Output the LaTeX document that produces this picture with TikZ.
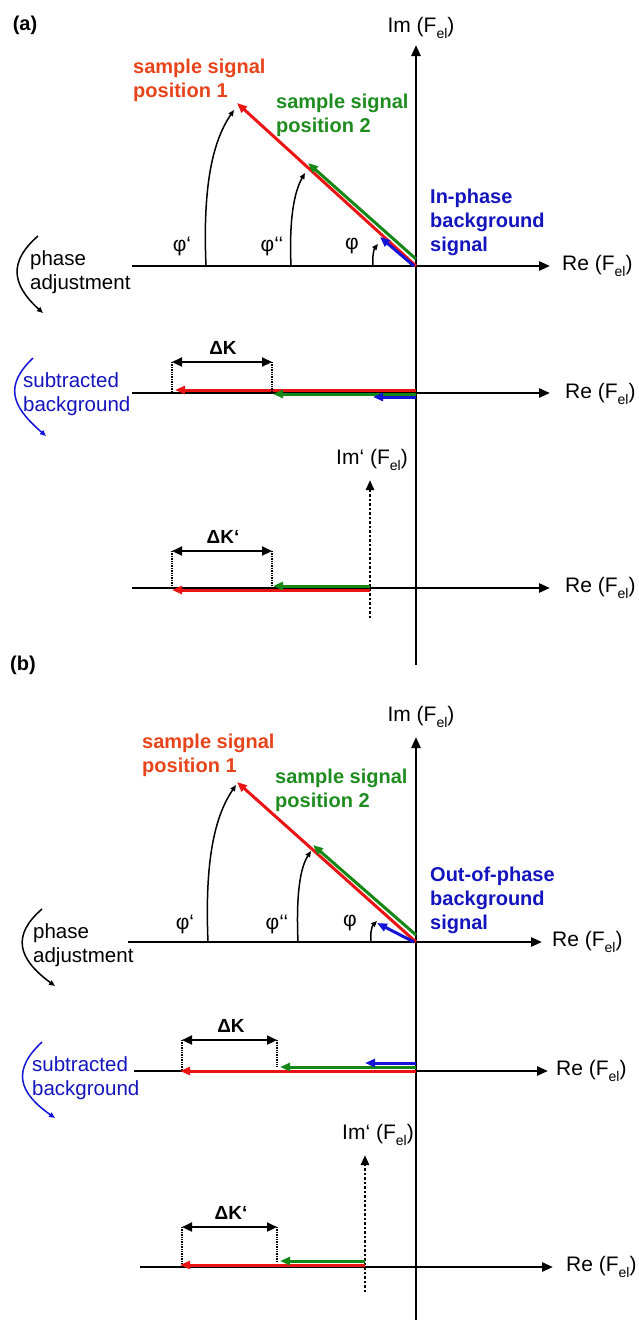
\documentclass[tikz,border=0pt]{standalone}
\usepackage{fontspec}
\setmainfont{Liberation Sans}
\usetikzlibrary{arrows.meta}
\definecolor{txtred}{RGB}{232,68,28}
\definecolor{vecred}{RGB}{235,20,20}
\definecolor{txtgreen}{RGB}{30,140,30}
\definecolor{vecgreen}{RGB}{20,135,20}
\definecolor{txtblue}{RGB}{20,20,190}
\definecolor{vecblue}{RGB}{20,20,215}
\newcommand{\Fel}{F\raisebox{-0.3em}{\fontsize{14}{14}\selectfont el}}
\begin{document}
\begin{tikzpicture}[x=1pt,y=-1pt,
  axisline/.style={line width=2.6pt,-{Triangle[length=11pt,width=9pt]}},
  vecline/.style={line width=3pt,-{Triangle[length=10pt,width=8pt]}},
  arcline/.style={line width=1.5pt,-{Triangle[length=6pt,width=5pt]}},
  dimline/.style={line width=2.2pt,{Triangle[length=10pt,width=9pt]}-{Triangle[length=10pt,width=9pt]}},
  dotline/.style={line width=1.4pt,densely dotted},
  imdot/.style={line width=2.6pt,dash pattern=on 2.5pt off 2pt,-{Triangle[length=10pt,width=8pt]}},
  lbl/.style={inner sep=0pt,font=\fontsize{21}{25}\selectfont},
  klbl/.style={inner sep=0pt,font=\fontsize{19}{23}\selectfont\bfseries},
  blbl/.style={inner sep=0pt,font=\fontsize{20}{24}\selectfont\bfseries,align=left},
  mlbl/.style={inner sep=0pt,font=\fontsize{20.5}{24.5}\selectfont,align=left}]
\useasboundingbox (0,0) rectangle (638,1325);

%%%%%%%%%%%%%%%% PANEL (a)
\node[blbl] (alab) at (25,25) {(a)};
% axes
\coordinate (a1L) at (132,266); \coordinate (a1R) at (550,266);
\coordinate (aVb) at (416,665); \coordinate (aVt) at (416,45);
\coordinate (a2L) at (132,393); \coordinate (a2R) at (550,393);
\coordinate (a3L) at (132,588); \coordinate (a3R) at (550,588);
\draw[axisline] (a1L) -- (a1R);
\draw[axisline] (a2L) -- (a2R);
\draw[axisline] (a3L) -- (a3R);
\draw[axisline] (aVb) -- (aVt);
\node[lbl] (aIm) at (421,28) {Im (\Fel)};
\node[lbl,anchor=west] (aRe1) at (562,266) {Re (\Fel)};
\node[lbl,anchor=west] (aRe2) at (565,394) {Re (\Fel)};
\node[lbl,anchor=west] (aRe3) at (565,588) {Re (\Fel)};
% vectors
\coordinate (aO) at (416,266);
\coordinate (aRt) at (237,103);
\coordinate (aGs) at (416,259); \coordinate (aGt) at (308,163);
\coordinate (aBs) at (414,266); \coordinate (aBt) at (380,237);
\draw[vecline,vecred] (aO) -- (aRt);
\draw[vecline,vecgreen] (aGs) -- (aGt);
\draw[vecline,vecblue] (aBs) -- (aBt);
\node[blbl,anchor=west,txtred] (aRl) at (133,80) {sample signal\\position 1};
\node[blbl,anchor=west,txtgreen] (aGl) at (276,115) {sample signal\\position 2};
\node[blbl,anchor=west,txtblue] (aBl) at (430,222) {In-phase\\background\\signal};
% angles
\coordinate (aA1) at (206,266); \coordinate (aA1e) at (234,110);
\coordinate (aA2) at (291,266); \coordinate (aA2e) at (305,173);
\coordinate (aA3) at (373,266); \coordinate (aA3e) at (378,244);
\draw[arcline] (aA1) .. controls (203,195) and (210,145) .. (aA1e);
\draw[arcline] (aA2) .. controls (289,220) and (294,192) .. (aA2e);
\draw[arcline] (aA3) .. controls (372,257) and (374,249) .. (aA3e);
\node[lbl] (aphi1) at (182,246) {φ‘};
\node[lbl] (aphi2) at (272,246) {φ‘‘};
\node[lbl] (aphi3) at (352,246) {φ};
% phase adjustment
\node[mlbl,anchor=west] (aPh) at (30,272) {phase\\adjustment};
\coordinate (aPa) at (38,236); \coordinate (aPb) at (43,313);
\draw[arcline] (aPa) .. controls (8,262) and (12,285) .. (aPb);
% subtracted
\coordinate (a2Rs) at (416,390); \coordinate (a2Rt) at (175,390);
\coordinate (a2Gs) at (416,394); \coordinate (a2Gt) at (273,394);
\coordinate (a2Bs) at (416,397); \coordinate (a2Bt) at (373,397);
\draw[vecline,vecred] (a2Rs) -- (a2Rt);
\draw[vecline,vecgreen] (a2Gs) -- (a2Gt);
\draw[vecline,vecblue] (a2Bs) -- (a2Bt);
\coordinate (aK1) at (172,362); \coordinate (aK2) at (272,362);
\coordinate (aK1b) at (172,391); \coordinate (aK2b) at (272,393);
\draw[dimline] (aK1) -- (aK2);
\draw[dotline] (aK1) -- (aK1b);
\draw[dotline] (aK2) -- (aK2b);
\node[klbl] (aDK) at (223,348) {ΔK};
\node[mlbl,anchor=west,txtblue] (aSub) at (23,394) {subtracted\\background};
\coordinate (aSa) at (33,358); \coordinate (aSb) at (46,436);
\draw[arcline,vecblue] (aSa) .. controls (5,385) and (10,405) .. (aSb);
% rotated frame
\coordinate (aImb) at (370,618); \coordinate (aImt) at (370,480);
\draw[imdot] (aImb) -- (aImt);
\node[lbl] (aImp) at (372,460) {Im‘ (\Fel)};
\coordinate (a3Rs) at (370,590); \coordinate (a3Rt) at (172,590);
\coordinate (a3Gs) at (370,586); \coordinate (a3Gt) at (273,586);
\draw[vecline,vecred] (a3Rs) -- (a3Rt);
\draw[vecline,vecgreen] (a3Gs) -- (a3Gt);
\coordinate (aL1) at (172,551); \coordinate (aL2) at (272,551);
\coordinate (aL1b) at (172,588); \coordinate (aL2b) at (272,586);
\draw[dimline] (aL1) -- (aL2);
\draw[dotline] (aL1) -- (aL1b);
\draw[dotline] (aL2) -- (aL2b);
\node[klbl] (aDKp) at (223,537) {ΔK‘};

%%%%%%%%%%%%%%%% PANEL (b)
\node[blbl] (blab) at (23,665) {(b)};
\coordinate (b1L) at (128,942); \coordinate (b1R) at (542,942);
\coordinate (bVb) at (416,1320); \coordinate (bVt) at (416,737);
\coordinate (b2L) at (134,1071); \coordinate (b2R) at (548,1071);
\coordinate (b3L) at (140,1267); \coordinate (b3R) at (553,1267);
\draw[axisline] (b1L) -- (b1R);
\draw[axisline] (b2L) -- (b2R);
\draw[axisline] (b3L) -- (b3R);
\draw[axisline] (bVb) -- (bVt);
\node[lbl] (bIm) at (421,717) {Im (\Fel)};
\node[lbl,anchor=west] (bRe1) at (552,942) {Re (\Fel)};
\node[lbl,anchor=west] (bRe2) at (556,1071) {Re (\Fel)};
\node[lbl,anchor=west] (bRe3) at (566,1267) {Re (\Fel)};
% vectors
\coordinate (bO) at (416,942);
\coordinate (bRt) at (237,782);
\coordinate (bGs) at (416,935); \coordinate (bGt) at (313,845);
\coordinate (bBs) at (414,942); \coordinate (bBt) at (377,923);
\draw[vecline,vecred] (bO) -- (bRt);
\draw[vecline,vecgreen] (bGs) -- (bGt);
\draw[vecline,vecblue] (bBs) -- (bBt);
\node[blbl,anchor=west,txtred] (bRl) at (142,755) {sample signal\\position 1};
\node[blbl,anchor=west,txtgreen] (bGl) at (275,790) {sample signal\\position 2};
\node[blbl,anchor=west,txtblue] (bBl) at (430,900) {Out-of-phase\\background\\signal};
% angles
\coordinate (bA1) at (208,942); \coordinate (bA1e) at (236,785);
\coordinate (bA2) at (298,942); \coordinate (bA2e) at (311,851);
\coordinate (bA3) at (371,942); \coordinate (bA3e) at (377,921);
\draw[arcline] (bA1) .. controls (205,870) and (212,820) .. (bA1e);
\draw[arcline] (bA2) .. controls (296,895) and (300,868) .. (bA2e);
\draw[arcline] (bA3) .. controls (370,933) and (372,926) .. (bA3e);
\node[lbl] (bphi1) at (185,924) {φ‘};
\node[lbl] (bphi2) at (277,924) {φ‘‘};
\node[lbl] (bphi3) at (350,923) {φ};
% phase adjustment
\node[mlbl,anchor=west] (bPh) at (33,945) {phase\\adjustment};
\coordinate (bPa) at (42,909); \coordinate (bPb) at (55,986);
\draw[arcline] (bPa) .. controls (12,935) and (17,958) .. (bPb);
% subtracted
\coordinate (b2Rs) at (416,1071); \coordinate (b2Rt) at (180,1071);
\coordinate (b2Gs) at (416,1067); \coordinate (b2Gt) at (280,1067);
\coordinate (b2Bs) at (416,1063); \coordinate (b2Bt) at (365,1063);
\draw[vecline,vecred] (b2Rs) -- (b2Rt);
\draw[vecline,vecgreen] (b2Gs) -- (b2Gt);
\draw[vecline,vecblue] (b2Bs) -- (b2Bt);
\coordinate (bK1) at (182,1040); \coordinate (bK2) at (277,1040);
\coordinate (bK1b) at (182,1071); \coordinate (bK2b) at (277,1067);
\draw[dimline] (bK1) -- (bK2);
\draw[dotline] (bK1) -- (bK1b);
\draw[dotline] (bK2) -- (bK2b);
\node[klbl] (bDK) at (231,1026) {ΔK};
\node[mlbl,anchor=west,txtblue] (bSub) at (32,1078) {subtracted\\background};
\coordinate (bSa) at (42,1042); \coordinate (bSb) at (55,1118);
\draw[arcline,vecblue] (bSa) .. controls (12,1070) and (18,1092) .. (bSb);
% rotated frame
\coordinate (bImb) at (365,1292); \coordinate (bImt) at (365,1155);
\draw[imdot] (bImb) -- (bImt);
\node[lbl] (bImp) at (378,1135) {Im‘ (\Fel)};
\coordinate (b3Rs) at (365,1265); \coordinate (b3Rt) at (180,1265);
\coordinate (b3Gs) at (365,1261); \coordinate (b3Gt) at (280,1261);
\draw[vecline,vecred] (b3Rs) -- (b3Rt);
\draw[vecline,vecgreen] (b3Gs) -- (b3Gt);
\coordinate (bL1) at (182,1227); \coordinate (bL2) at (277,1227);
\coordinate (bL1b) at (182,1265); \coordinate (bL2b) at (277,1261);
\draw[dimline] (bL1) -- (bL2);
\draw[dotline] (bL1) -- (bL1b);
\draw[dotline] (bL2) -- (bL2b);
\node[klbl] (bDKp) at (231,1213) {ΔK‘};
\end{tikzpicture}
\end{document}
